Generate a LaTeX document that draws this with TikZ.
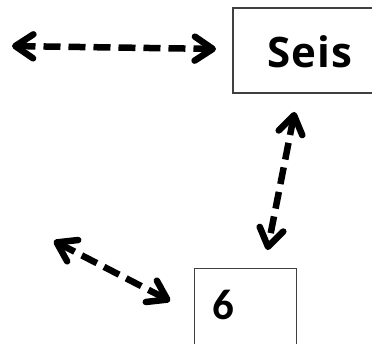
\documentclass[tikz,border=0pt]{standalone}
\usepackage{fontspec}
\setmainfont{Open Sans}
\newfontfamily\numfont{Carlito}
\newfontfamily\seisfont[LetterSpace=2.5]{Open Sans}
\usetikzlibrary{arrows.meta}
\begin{document}
\begin{tikzpicture}[x=1pt,y=1pt,
  box/.style={draw=black!75, line width=1.3pt, fill=white, rectangle, inner sep=0pt},
  dasharrow/.style={line width=6.5pt, dash pattern=on 17pt off 8pt,
    {Straight Barb[length=18pt,width=24pt,round]}-{Straight Barb[length=18pt,width=24pt,round]}, shorten <=2pt, shorten >=2pt}
]
\useasboundingbox (0,0) rectangle (372,344);
\clip (0,0) rectangle (372,344);
% boxes
\node[box, minimum width=148pt, minimum height=85pt] (seis) at (307,293.5) {};
\node[font=\seisfont\bfseries\fontsize{42}{44}\selectfont] (seistxt) at (310,292.5) {Seis};
\node[box, anchor=north west, minimum width=102pt, minimum height=100pt] (six) at (194,76) {};
\node[font=\numfont\bfseries\fontsize{43}{45}\selectfont] (sixtxt) at (223,39) {6};
% free ends
\coordinate (a1) at (10,298);
\coordinate (a2) at (218,295);
\coordinate (b1) at (295,234);
\coordinate (b2) at (267,92);
\coordinate (c1) at (52,104);
\coordinate (c2) at (172,42);
\draw[dasharrow] (a1) -- (a2);
\draw[dasharrow] (b1) -- (b2);
\draw[dasharrow] (c1) -- (c2);
\end{tikzpicture}
\end{document}
